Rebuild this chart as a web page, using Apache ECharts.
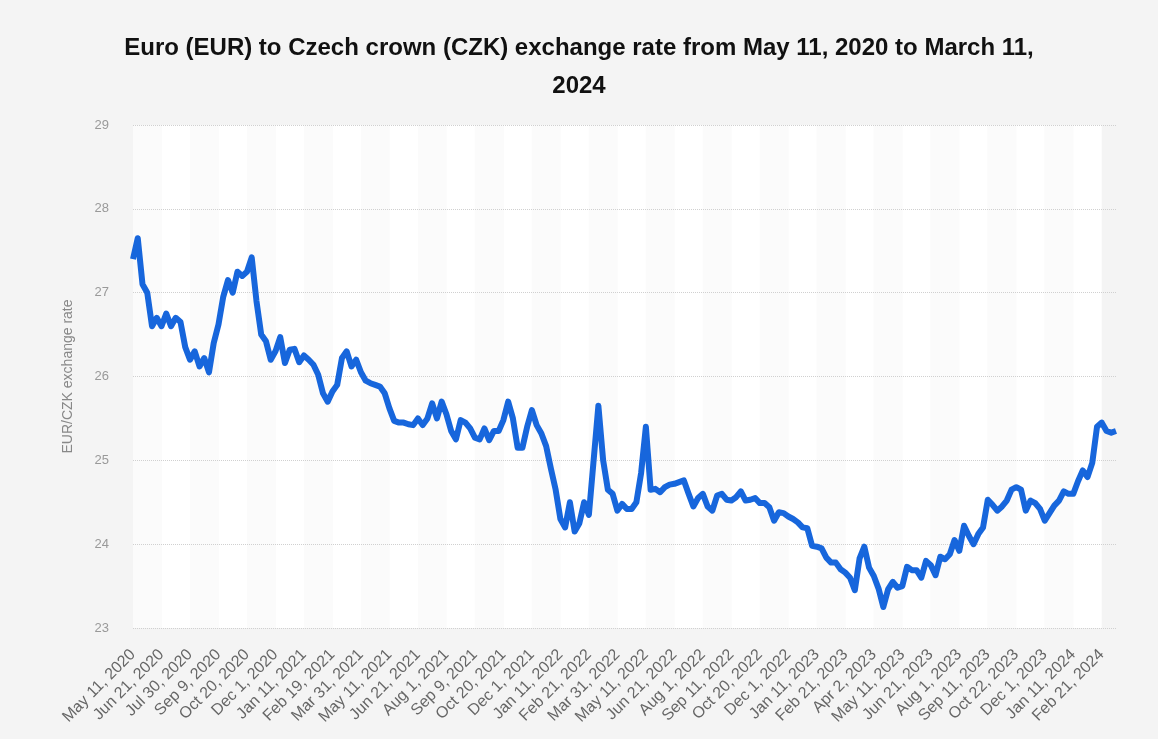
<!DOCTYPE html>
<html>
<head>
<meta charset="utf-8">
<title>EUR/CZK</title>
<script src="https://cdn.jsdelivr.net/npm/echarts@6/dist/echarts.min.js"></script>
<style>
  html, body { margin: 0; padding: 0; background: #f4f4f4; }
  #chart { width: 1158px; height: 739px; }
</style>
</head>
<body>
<div id="chart"></div>
<script>
// tick labels on the x axis, one every 6 points
var tickLabels = [
  'May 11, 2020', 'Jun 21, 2020', 'Jul 30, 2020', 'Sep 9, 2020', 'Oct 20, 2020', 'Dec 1, 2020',
  'Jan 11, 2021', 'Feb 19, 2021', 'Mar 31, 2021', 'May 11, 2021', 'Jun 21, 2021', 'Aug 1, 2021',
  'Sep 9, 2021', 'Oct 20, 2021', 'Dec 1, 2021', 'Jan 11, 2022', 'Feb 21, 2022', 'Mar 31, 2022',
  'May 11, 2022', 'Jun 21, 2022', 'Aug 1, 2022', 'Sep 11, 2022', 'Oct 20, 2022', 'Dec 1, 2022',
  'Jan 11, 2023', 'Feb 21, 2023', 'Apr 2, 2023', 'May 11, 2023', 'Jun 21, 2023', 'Aug 1, 2023',
  'Sep 11, 2023', 'Oct 22, 2023', 'Dec 1, 2023', 'Jan 11, 2024', 'Feb 21, 2024'
];
var pointsPerTick = 6;
var tailPoints = 3; // Feb 21 -> Mar 11, 2024

// EUR/CZK
var rates = [
  27.4, 27.65, 27.1, 27.0, 26.6, 26.7,
  26.6, 26.75, 26.6, 26.7, 26.65, 26.35,
  26.2, 26.3, 26.12, 26.22, 26.05, 26.4,
  26.62, 26.95, 27.15, 27.0, 27.25, 27.2,
  27.25, 27.42, 26.9, 26.5, 26.42, 26.2,
  26.3, 26.47, 26.16, 26.32, 26.33, 26.17,
  26.25, 26.2, 26.14, 26.02, 25.8, 25.7,
  25.82, 25.9, 26.22, 26.3, 26.12, 26.2,
  26.05, 25.95, 25.92, 25.9, 25.88, 25.8,
  25.62, 25.47, 25.45, 25.45, 25.43, 25.42,
  25.5, 25.42, 25.5, 25.68, 25.5, 25.7,
  25.55, 25.35, 25.25, 25.48, 25.45, 25.38,
  25.27, 25.25, 25.38, 25.24, 25.35, 25.35,
  25.48, 25.7, 25.5, 25.15, 25.15, 25.4,
  25.6, 25.42, 25.32, 25.17, 24.9, 24.65,
  24.3, 24.2, 24.5, 24.15, 24.25, 24.5,
  24.35, 25.0, 25.65, 25.0, 24.65, 24.6,
  24.4, 24.48, 24.42, 24.42, 24.5, 24.85,
  25.4, 24.65, 24.66, 24.62, 24.68, 24.71,
  24.72, 24.74, 24.76, 24.6, 24.45, 24.55,
  24.6, 24.45, 24.4, 24.58, 24.6, 24.53,
  24.52, 24.56, 24.63, 24.52, 24.53, 24.55,
  24.49, 24.49, 24.44, 24.28, 24.38, 24.37,
  24.33, 24.3, 24.26, 24.2, 24.19, 23.98,
  23.97, 23.95, 23.84, 23.78, 23.78, 23.7,
  23.66, 23.6, 23.45, 23.83, 23.97, 23.72,
  23.62, 23.47, 23.25, 23.46, 23.55, 23.48,
  23.5, 23.73, 23.69, 23.69, 23.6, 23.8,
  23.75, 23.63, 23.85, 23.82, 23.88, 24.05,
  23.92, 24.22, 24.1, 24.0, 24.12, 24.2,
  24.53, 24.47, 24.4, 24.45, 24.52, 24.65,
  24.68, 24.65, 24.4, 24.52, 24.49, 24.42,
  24.28, 24.37, 24.46, 24.52, 24.63, 24.6,
  24.6, 24.75, 24.88, 24.8, 24.97, 25.4,
  25.45, 25.35, 25.33, 25.35
];

// category list: a tick label every pointsPerTick points, blanks between
var categories = [];
tickLabels.forEach(function (lab, i) {
  categories.push(lab);
  if (i < tickLabels.length - 1) {
    for (var j = 1; j < pointsPerTick; j++) categories.push('');
  }
});
for (var t = 0; t < tailPoints; t++) categories.push('');

var chart = echarts.init(document.getElementById('chart'));
chart.setOption({
  backgroundColor: '#f4f4f4',
  animation: false,
  title: {
    text: 'Euro (EUR) to Czech crown (CZK) exchange rate from May 11, 2020 to March 11,\n2024',
    left: 'center',
    top: 24,
    textStyle: {
      fontFamily: 'Liberation Sans',
      fontSize: 24,
      fontWeight: 'bold',
      color: '#111',
      lineHeight: 38
    }
  },
  grid: { left: 133, right: 42, top: 125, bottom: 111 },
  xAxis: {
    type: 'category',
    z: 0,
    data: categories,
    boundaryGap: false,
    axisLine: { show: false },
    axisTick: { show: false },
    axisLabel: {
      interval: pointsPerTick - 1,
      rotate: 45,
      color: '#666',
      fontFamily: 'Liberation Sans',
      fontSize: 16,
      margin: 24
    },
    splitLine: { show: false },
    splitArea: {
      show: true,
      interval: pointsPerTick - 1,
      areaStyle: { color: ['#fbfbfb', '#ffffff'] }
    }
  },
  yAxis: {
    type: 'value',
    z: 1,
    min: 23,
    max: 29,
    interval: 1,
    name: 'EUR/CZK exchange rate',
    nameLocation: 'middle',
    nameGap: 58,
    nameTextStyle: { color: '#888', fontFamily: 'Liberation Sans', fontSize: 14 },
    axisLine: { show: false },
    axisTick: { show: false },
    axisLabel: { color: '#999', fontFamily: 'Liberation Sans', fontSize: 13, margin: 24 },
    splitLine: { lineStyle: { color: '#d0d0d0', type: 'dotted', width: 1 } }
  },
  series: [{
    type: 'line',
    data: rates,
    symbol: 'none',
    lineStyle: { color: '#1766dc', width: 6, join: 'round' }
  }]
});
</script>
</body>
</html>
